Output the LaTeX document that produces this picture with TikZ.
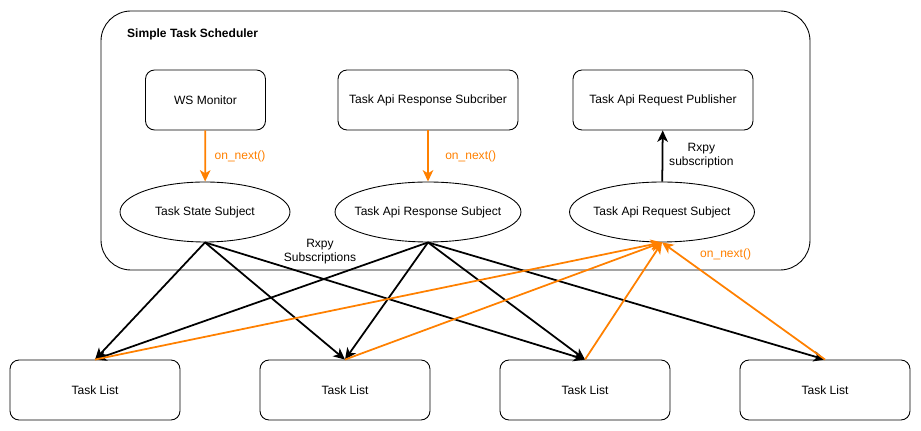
\documentclass[tikz,border=0pt]{standalone}
\usepackage{fontspec}
\setmainfont{Liberation Sans}
\usetikzlibrary{shapes.geometric,arrows.meta}
\definecolor{drioorange}{HTML}{FF8000}

\begin{document}
\begin{tikzpicture}[x=0.02cm,y=-0.02cm,
        font=\fontsize{6.85}{8}\selectfont,
        block/.style={draw, rounded corners=0.18cm, minimum height=1.2cm, inner sep=0pt, line width=0.5pt},
        subject/.style={draw, ellipse, minimum height=1.2cm, inner ysep=0pt, inner xsep=-8pt, line width=0.5pt},
        blackarr/.style={line width=1pt, -{Stealth[length=6.5pt,width=6pt,inset=1.8pt]}},
        orangearr/.style={draw=drioorange, line width=1pt, -{Stealth[length=6.5pt,width=6pt,inset=1.8pt]}},
        orangelbl/.style={text=drioorange}]
    \useasboundingbox (0,0) rectangle (921,431);
    % scheduler frame
    \draw[rounded corners=0.6cm, line width=0.5pt] (101,11) rectangle (810,270);
    \node[anchor=west, font=\fontsize{6.85}{8}\selectfont\bfseries] (title) at (121,34) {Simple Task Scheduler};

    % sources
    \node[block, minimum width=2.4cm] (wsmon) at (205.5,100) {WS Monitor};
    \node[block, minimum width=3.6cm] (respsub) at (428,100) {Task Api Response Subcriber};
    \node[block, minimum width=3.6cm] (reqpub) at (663,100) {Task Api Request Publisher};

    % subjects
    \node[subject, minimum width=3.4cm] (statesubj) at (205,212) {Task State Subject};
    \node[subject, minimum width=3.72cm] (respsubj) at (428,212) {Task Api Response Subject};
    \node[subject, minimum width=3.7cm] (reqsubj) at (662,212) {Task Api Request Subject};

    % task lists
    \foreach \i/\x in {1/95,2/345,3/585,4/825}
        \node[block, minimum width=3.4cm] (list\i) at (\x,390) {Task List};

    \draw[orangearr] (wsmon) -- node[right, orangelbl, xshift=1.5pt] (nxa) {on\_next()} (statesubj);
    \draw[orangearr] (respsub) -- node[right, orangelbl, xshift=6pt] (nxb) {on\_next()} (respsubj);
    \draw[blackarr] (reqsubj) -- node[right, align=center, xshift=0pt] (rxa) {Rxpy\\subscription} (reqpub);

    \foreach \i in {1,2,3}
        \draw[blackarr] (statesubj.south) -- (list\i.north);
    \foreach \i in {1,2,3,4}
        \draw[blackarr] (respsubj.south) -- (list\i.north);
    \foreach \i in {1,2,3,4}
        \draw[orangearr] (list\i.north) -- (reqsubj.south);

    \node[align=center] (rxb) at (320,252) {Rxpy\\Subscriptions};
    \node[orangelbl, anchor=west] (nxc) at (694,254) {on\_next()};
\end{tikzpicture}
\end{document}
